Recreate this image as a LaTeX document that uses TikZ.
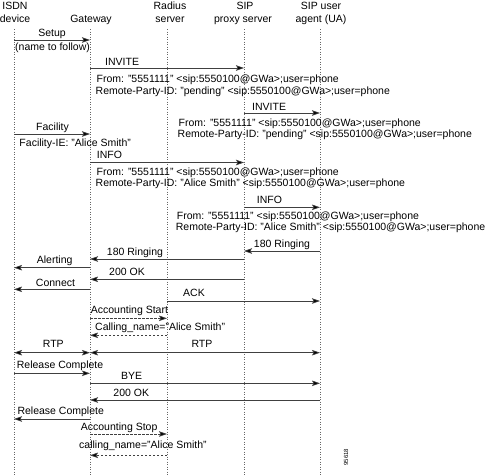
\documentclass[tikz,border=0pt]{standalone}
\usepackage{fontspec}
\setmainfont{Liberation Sans}
\usetikzlibrary{arrows.meta,calc}
\newcommand\seqmsg[4]{\draw[#1] ($(#2)+(0,#4)$) -- ($(#3)+(0,#4)$);}
\begin{document}
\begin{tikzpicture}[x=1pt,y=-1pt,
  txt/.style={inner sep=0pt,font=\fontsize{10.5}{12}\selectfont},
  lc/.style={txt,anchor=base},
  lw/.style={txt,anchor=base west},
  life/.style={draw=black!60,line width=0.5pt,dash pattern=on 1pt off 1.5pt},
  msg/.style={draw=black!75,line width=0.7pt,-{Stealth[length=8pt,width=5.5pt,inset=1.5pt,fill=black]}},
  dmsg/.style={msg,dash pattern=on 2.5pt off 1.5pt},
  bmsg/.style={draw=black!75,line width=0.7pt,{Stealth[length=8pt,width=5.5pt,inset=1.5pt,fill=black]}-{Stealth[length=8pt,width=5.5pt,inset=1.5pt,fill=black]}}]
\useasboundingbox (0,0) rectangle (490,475);
% lifelines
\coordinate (I) at (14,0);
\coordinate (G) at (90,0);
\coordinate (R) at (167,0);
\coordinate (P) at (244,0);
\coordinate (U) at (320,0);
\foreach \c in {I,G,R,P,U}{\draw[life] ($(\c)+(0,29)$) -- ($(\c)+(0,475)$);}
% headers
\node[lc] (h1a) at (15,9.5) {ISDN};
\node[lc] (h1b) at (15,22.5) {device};
\node[lc] (h2) at (91,22.5) {Gateway};
\node[lc] (h3a) at (170,9.5) {Radius};
\node[lc] (h3b) at (170,22.5) {server};
\node[lc] (h4a) at (245,9.5) {SIP};
\node[lc] (h4b) at (243,22.5) {proxy server};
\node[lc] (h5a) at (321,9.5) {SIP user};
\node[lc] (h5b) at (321,22.5) {agent (UA)};
% Setup
\seqmsg{msg}{I}{G}{40}
\node[lc] (t1) at (52,36) {Setup};
\node[lw] (t1b) at (15,50) {(name to follow)};
% INVITE 1
\seqmsg{msg}{G}{P}{68}
\node[lw] (t2) at (105,65) {INVITE};
\node[lw] (t2a) at (96.5,82.7) {From: "5551111" <sip:5550100@GWa>;user=phone};
\node[lw] (t2b) at (95.5,94) {Remote-Party-ID: "pending" <sip:5550100@GWa>;user=phone};
% INVITE 2
\seqmsg{msg}{P}{U}{113}
\node[lw] (t3) at (252,110) {INVITE};
\node[lw] (t3a) at (178.5,126.7) {From: "5551111" <sip:5550100@GWa>;user=phone};
\node[lw] (t3b) at (177.5,137.7) {Remote-Party-ID: "pending" <sip:5550100@GWa>;user=phone};
% Facility
\seqmsg{msg}{I}{G}{134}
\node[lc] (t4) at (52.5,130) {Facility};
\node[lw] (t4b) at (19.3,146) {Facility-IE: "Alice Smith"};
% INFO 1
\seqmsg{msg}{G}{P}{162.5}
\node[lw] (t5) at (96.7,158.3) {INFO};
\node[lw] (t5a) at (96.5,175.3) {From: "5551111" <sip:5550100@GWa>;user=phone};
\node[lw] (t5b) at (95.5,186) {Remote-Party-ID: "Alice Smith" <sip:5550100@GWa>;user=phone};
% INFO 2
\seqmsg{msg}{P}{U}{207.3}
\node[lw] (t6) at (256.7,203.3) {INFO};
\node[lw] (t6a) at (176.7,219.3) {From: "5551111" <sip:5550100@GWa>;user=phone};
\node[lw] (t6b) at (175.7,230) {Remote-Party-ID: "Alice Smith" <sip:5550100@GWa>;user=phone};
% 180 Ringing
\seqmsg{msg}{U}{P}{251}
\node[lc] (t7) at (282,247.3) {180 Ringing};
\seqmsg{msg}{P}{G}{259}
\node[lc] (t8) at (135,255) {180 Ringing};
% Alerting
\seqmsg{msg}{G}{I}{267.7}
\node[lc] (t9) at (54.7,263.3) {Alerting};
% 200 OK
\seqmsg{msg}{P}{G}{279.3}
\node[lc] (t10) at (127,275) {200 OK};
% Connect
\seqmsg{msg}{G}{I}{289.3}
\node[lc] (t11) at (55.5,286) {Connect};
% ACK
\seqmsg{msg}{R}{U}{301}
\node[lc] (t12) at (194,296) {ACK};
% Accounting start
\seqmsg{dmsg}{G}{R}{318.3}
\node[lw] (t13) at (90.7,313.3) {Accounting Start};
\seqmsg{dmsg}{R}{G}{335.3}
\node[lw] (t14) at (95,330.7) {Calling\_name="Alice Smith"};
% RTP
\seqmsg{bmsg}{I}{G}{352.7}
\node[lc] (t15) at (53.3,347.3) {RTP};
\seqmsg{bmsg}{G}{U}{352.7}
\node[lc] (t16) at (202,347.3) {RTP};
% Release complete
\seqmsg{msg}{I}{G}{373.3}
\node[lw] (t17) at (16.7,368.3) {Release Complete};
\seqmsg{msg}{G}{U}{383.3}
\node[lc] (t18) at (131.7,379.3) {BYE};
\seqmsg{msg}{U}{G}{400}
\node[lc] (t19) at (131.3,396) {200 OK};
\seqmsg{msg}{G}{I}{419}
\node[lw] (t20) at (17.3,414) {Release Complete};
% Accounting stop
\seqmsg{dmsg}{G}{R}{434}
\node[lw] (t21) at (80.7,430) {Accounting Stop};
\seqmsg{dmsg}{R}{G}{455.3}
\node[lw] (t22) at (79,448.7) {calling\_name="Alice Smith"};
% figure number
\node[inner sep=0pt,font=\fontsize{6}{7}\selectfont,rotate=90] (fig) at (346,457) {95618};
\end{tikzpicture}
\end{document}
